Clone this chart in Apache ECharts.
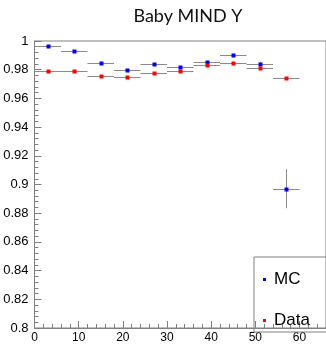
<!DOCTYPE html>
<html><head><meta charset="utf-8">
<script src="https://cdn.jsdelivr.net/npm/echarts@6/dist/echarts.min.js"></script>
<style>html,body{margin:0;padding:0;background:#fff}#c{width:326px;height:344px}</style>
</head><body><div id="c"></div>
<script>
const binCenters = [3, 9, 15, 21, 27, 33, 39, 45, 51, 57];
const binHalfWidths = [3, 3, 3, 3, 3, 3, 3, 3, 3, 3];
const mcValues = [0.9965, 0.9933, 0.9848, 0.9795, 0.9841, 0.9822, 0.9855, 0.9905, 0.9843, 0.8971];
const mcErrors = [0.0004, 0.0004, 0.0004, 0.0004, 0.0004, 0.0004, 0.0004, 0.0004, 0.0012, 0.0136];
const dataValues = [0.9792, 0.9790, 0.9756, 0.9749, 0.9776, 0.9790, 0.9836, 0.9848, 0.9813, 0.9739];
const dataErrors = [0.0003, 0.0003, 0.0003, 0.0003, 0.0003, 0.0003, 0.0003, 0.0003, 0.0003, 0.0003];
const xTicks = {min: 0, max: 66, interval: 10};
const yTicks = {min: 0.8, max: 1, interval: 0.02};

function rows(vals, errs) {
  return binCenters.map((c, i) => [c, vals[i], binHalfWidths[i], errs[i]]);
}
function renderErr(color) {
  return function (params, api) {
    const x = api.value(0), y = api.value(1), hx = api.value(2), ey = api.value(3);
    const p = api.coord([x, y]);
    const pl = api.coord([x - hx, y]);
    const pr = api.coord([x + hx, y]);
    const pt = api.coord([x, y + ey]);
    const pb = api.coord([x, y - ey]);
    const ls = {stroke: '#8a8a8a', lineWidth: 1};
    return {type: 'group', children: [
      {type: 'line', shape: {x1: pl[0], y1: Math.round(p[1]) + 0.5, x2: pr[0], y2: Math.round(p[1]) + 0.5}, style: ls},
      {type: 'line', shape: {x1: Math.round(p[0]) + 0.5, y1: pt[1], x2: Math.round(p[0]) + 0.5, y2: pb[1]}, style: ls},
      {type: 'rect', shape: {x: Math.round(p[0]) - 1.5, y: Math.round(p[1]) - 1.5, width: 4, height: 4}, style: {fill: color}}
    ]};
  };
}
const chart = echarts.init(document.getElementById('c'), null, {renderer: 'canvas'});
const axisGray = '#808080';
chart.setOption({
  animation: false,
  title: {text: 'Baby MIND Y', left: 183, top: 2, textAlign: 'center',
    textStyle: {fontFamily: 'Lato', fontWeight: 'normal', fontSize: 18, color: '#111'}},
  grid: {left: 34.5, top: 41, width: 293, height: 289, show: true, borderColor: axisGray, borderWidth: 1, containLabel: false},
  xAxis: {type: 'value', min: xTicks.min, max: xTicks.max, interval: xTicks.interval,
    axisLine: {onZero: false, lineStyle: {color: axisGray}},
    axisTick: {inside: true, length: 7, lineStyle: {color: axisGray}},
    minorTick: {show: true, splitNumber: 5, length: 4, lineStyle: {color: axisGray}},
    splitLine: {show: false},
    axisLabel: {showMaxLabel: false, margin: 4, color: '#000', fontFamily: 'Liberation Sans', fontSize: 12}},
  yAxis: {type: 'value', min: yTicks.min, max: yTicks.max, interval: yTicks.interval,
    axisLine: {onZero: false, lineStyle: {color: axisGray}},
    axisTick: {inside: true, length: 7, lineStyle: {color: axisGray}},
    minorTick: {show: true, splitNumber: 5, length: 4, lineStyle: {color: axisGray}},
    splitLine: {show: false},
    axisLabel: {margin: 6, color: '#000', fontFamily: 'Liberation Sans', fontSize: 13,
      formatter: v => String(+v.toFixed(4))}},
  legend: {orient: 'vertical', left: 254, top: 257, padding: [14, 30, 3, 9], itemGap: 24,
    itemWidth: 3, itemHeight: 3, icon: 'rect', borderColor: axisGray, borderWidth: 1,
    textStyle: {fontFamily: 'Liberation Sans', fontSize: 17, color: '#000', padding: [0, 0, 0, 3]},
    data: [{name: 'MC', itemStyle: {color: '#0000ff'}}, {name: 'Data', itemStyle: {color: '#ff0000'}}]},
  series: [
    {name: 'MC', type: 'custom', itemStyle: {color: '#0000ff'}, renderItem: renderErr('#0000ff'), data: rows(mcValues, mcErrors)},
    {name: 'Data', type: 'custom', itemStyle: {color: '#ff0000'}, renderItem: renderErr('#ff0000'), data: rows(dataValues, dataErrors)}
  ]
});
</script></body></html>
